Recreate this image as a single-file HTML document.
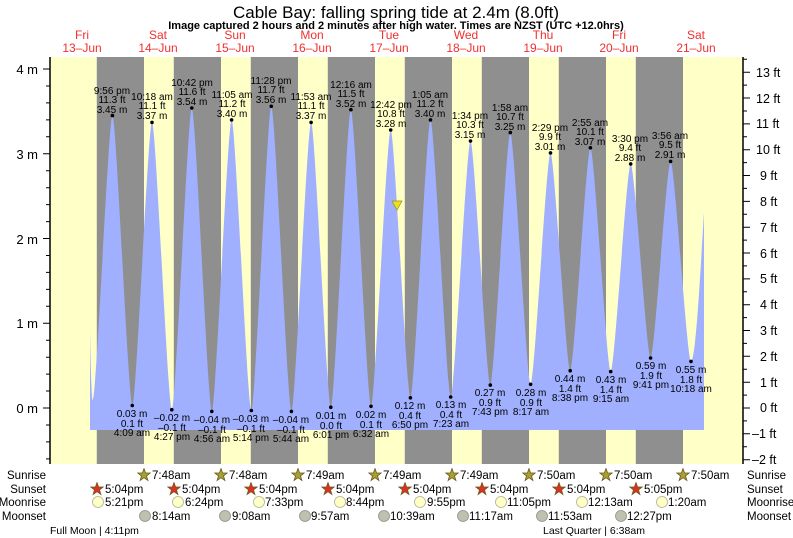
<!DOCTYPE html>
<html><head><meta charset="utf-8"><style>
body{margin:0;background:#fff}
svg{display:block;font-family:"Liberation Sans",sans-serif}
.hl text{font-size:10px;text-anchor:middle;fill:#000}
.row{font-size:11.5px;fill:#000}
</style></head><body>
<svg width="793" height="538" viewBox="0 0 793 538" xmlns="http://www.w3.org/2000/svg">
<defs>
<symbol id="st" viewBox="-7 -7 14 14"><polygon points="0,-6.5 1.6,-2 6.2,-2 2.5,0.9 3.9,5.5 0,2.7 -3.9,5.5 -2.5,0.9 -6.2,-2 -1.6,-2" stroke="#6a5a20" stroke-width="0.8"/></symbol>
</defs>
<text x="396" y="18" font-size="17" text-anchor="middle">Cable Bay: falling  spring tide at 2.4m (8.0ft)</text>
<text x="396" y="29" font-size="11" font-weight="bold" text-anchor="middle">Image captured 2 hours and 2 minutes after high water. Times are NZST (UTC +12.0hrs)</text>
<g font-size="12" fill="#f03030" text-anchor="middle">
<text x="82" y="39">Fri</text><text x="82" y="52">13–Jun</text>
<text x="158" y="39">Sat</text><text x="158" y="52">14–Jun</text>
<text x="235" y="39">Sun</text><text x="235" y="52">15–Jun</text>
<text x="312" y="39">Mon</text><text x="312" y="52">16–Jun</text>
<text x="389" y="39">Tue</text><text x="389" y="52">17–Jun</text>
<text x="466" y="39">Wed</text><text x="466" y="52">18–Jun</text>
<text x="543" y="39">Thu</text><text x="543" y="52">19–Jun</text>
<text x="619" y="39">Fri</text><text x="619" y="52">20–Jun</text>
<text x="696" y="39">Sat</text><text x="696" y="52">21–Jun</text>
</g>
<rect x="50" y="57" width="693" height="407" fill="#ffffc8"/>
<g fill="#8f8f8f">
<rect x="96.8" y="57" width="47.2" height="407"/><rect x="173.8" y="57" width="47.2" height="407"/>
<rect x="250.8" y="57" width="47.2" height="407"/><rect x="327.8" y="57" width="47.2" height="407"/>
<rect x="404.8" y="57" width="47.2" height="407"/><rect x="481.8" y="57" width="47.2" height="407"/>
<rect x="558.8" y="57" width="47.2" height="407"/><rect x="635.8" y="57" width="47.2" height="407"/>
</g>
<path fill="#a0b0ff" d="M90,430 L90,330 C91,385 92,400 92.6,400
C96.6,400 108.4,115.6 112.4,115.6 C116.4,115.6 128.3,405.5 132.3,405.5 C136.3,405.5 148,122.4 152,122.4
C156,122.4 167.8,409.7 171.8,409.7 C175.8,409.7 187.8,108 191.8,108 C195.8,108 207.8,411.4 211.8,411.4
C215.8,411.4 227.6,119.9 231.6,119.9 C235.6,119.9 247.3,410.5 251.3,410.5 C255.3,410.5 267.3,106.3 271.3,106.3
C275.3,106.3 287.4,411.4 291.4,411.4 C295.4,411.4 307.1,122.4 311.1,122.4 C315.1,122.4 326.8,407.2 330.8,407.2
C334.8,407.2 346.9,109.7 350.9,109.7 C354.9,109.7 367,406.3 371,406.3 C375,406.3 386.7,130 390.7,130
C394.7,130 406.4,397.8 410.4,397.8 C414.4,397.8 426.5,119.9 430.5,119.9 C434.5,119.9 446.7,397 450.7,397
C454.7,397 466.5,141 470.5,141 C474.5,141 486.3,385.1 490.3,385.1 C494.3,385.1 506.3,132.6 510.3,132.6
C514.3,132.6 526.6,384.3 530.6,384.3 C534.6,384.3 546.5,152.9 550.5,152.9 C554.5,152.9 566.2,370.7 570.2,370.7
C574.2,370.7 586.4,147.8 590.4,147.8 C594.4,147.8 606.7,371.6 610.7,371.6 C614.7,371.6 626.7,163.9 630.7,163.9
C634.7,163.9 646.6,358 650.6,358 C654.6,358 666.6,161.4 670.6,161.4 C674.6,161.4 687,361.4 691,361.4
C696,361.4 701,260 704,212 L704,430 Z"/>
<polygon points="392,201 402,201 397,210" fill="#e8e020" stroke="#a09010" stroke-width="0.7"/>
<g fill="#000">
<circle cx="112.4" cy="115.6" r="1.8"/><circle cx="152" cy="122.4" r="1.8"/><circle cx="191.8" cy="108" r="1.8"/><circle cx="231.6" cy="119.9" r="1.8"/><circle cx="271.3" cy="106.3" r="1.8"/><circle cx="311.1" cy="122.4" r="1.8"/><circle cx="350.9" cy="109.7" r="1.8"/><circle cx="390.7" cy="130" r="1.8"/><circle cx="430.5" cy="119.9" r="1.8"/><circle cx="470.5" cy="141" r="1.8"/><circle cx="510.3" cy="132.6" r="1.8"/><circle cx="550.5" cy="152.9" r="1.8"/><circle cx="590.4" cy="147.8" r="1.8"/><circle cx="630.7" cy="163.9" r="1.8"/><circle cx="670.6" cy="161.4" r="1.8"/>
<circle cx="132.3" cy="405.5" r="1.8"/><circle cx="171.8" cy="409.7" r="1.8"/><circle cx="211.8" cy="411.4" r="1.8"/><circle cx="251.3" cy="410.5" r="1.8"/><circle cx="291.4" cy="411.4" r="1.8"/><circle cx="330.8" cy="407.2" r="1.8"/><circle cx="371" cy="406.3" r="1.8"/><circle cx="410.4" cy="397.8" r="1.8"/><circle cx="450.7" cy="397" r="1.8"/><circle cx="490.3" cy="385.1" r="1.8"/><circle cx="530.6" cy="384.3" r="1.8"/><circle cx="570.2" cy="370.7" r="1.8"/><circle cx="610.7" cy="371.6" r="1.8"/><circle cx="650.6" cy="358" r="1.8"/><circle cx="691" cy="361.4" r="1.8"/>
</g>
<g class="hl">
<text x="112" y="94">9:56 pm</text><text x="112" y="103">11.3 ft</text><text x="112" y="113">3.45 m</text>
<text x="152" y="100">10:18 am</text><text x="152" y="109">11.1 ft</text><text x="152" y="119">3.37 m</text>
<text x="192" y="86">10:42 pm</text><text x="192" y="95">11.6 ft</text><text x="192" y="105">3.54 m</text>
<text x="232" y="98">11:05 am</text><text x="232" y="107">11.2 ft</text><text x="232" y="117">3.40 m</text>
<text x="271" y="84">11:28 pm</text><text x="271" y="93">11.7 ft</text><text x="271" y="103">3.56 m</text>
<text x="311" y="100">11:53 am</text><text x="311" y="109">11.1 ft</text><text x="311" y="119">3.37 m</text>
<text x="351" y="88">12:16 am</text><text x="351" y="97">11.5 ft</text><text x="351" y="107">3.52 m</text>
<text x="391" y="108">12:42 pm</text><text x="391" y="117">10.8 ft</text><text x="391" y="127">3.28 m</text>
<text x="430" y="98">1:05 am</text><text x="430" y="107">11.2 ft</text><text x="430" y="117">3.40 m</text>
<text x="470" y="119">1:34 pm</text><text x="470" y="128">10.3 ft</text><text x="470" y="138">3.15 m</text>
<text x="510" y="111">1:58 am</text><text x="510" y="120">10.7 ft</text><text x="510" y="130">3.25 m</text>
<text x="550" y="131">2:29 pm</text><text x="550" y="140">9.9 ft</text><text x="550" y="150">3.01 m</text>
<text x="590" y="126">2:55 am</text><text x="590" y="135">10.1 ft</text><text x="590" y="145">3.07 m</text>
<text x="630" y="142">3:30 pm</text><text x="630" y="151">9.4 ft</text><text x="630" y="161">2.88 m</text>
<text x="670" y="139">3:56 am</text><text x="670" y="148">9.5 ft</text><text x="670" y="158">2.91 m</text>
<text x="132" y="417">0.03 m</text><text x="132" y="427">0.1 ft</text><text x="132" y="436">4:09 am</text>
<text x="172" y="421">–0.02 m</text><text x="172" y="431">–0.1 ft</text><text x="172" y="440">4:27 pm</text>
<text x="212" y="423">–0.04 m</text><text x="212" y="433">–0.1 ft</text><text x="212" y="442">4:56 am</text>
<text x="251" y="422">–0.03 m</text><text x="251" y="432">–0.1 ft</text><text x="251" y="441">5:14 pm</text>
<text x="291" y="423">–0.04 m</text><text x="291" y="433">–0.1 ft</text><text x="291" y="442">5:44 am</text>
<text x="331" y="419">0.01 m</text><text x="331" y="429">0.0 ft</text><text x="331" y="438">6:01 pm</text>
<text x="371" y="418">0.02 m</text><text x="371" y="428">0.1 ft</text><text x="371" y="437">6:32 am</text>
<text x="410" y="409">0.12 m</text><text x="410" y="419">0.4 ft</text><text x="410" y="428">6:50 pm</text>
<text x="451" y="408">0.13 m</text><text x="451" y="418">0.4 ft</text><text x="451" y="427">7:23 am</text>
<text x="490" y="396">0.27 m</text><text x="490" y="406">0.9 ft</text><text x="490" y="415">7:43 pm</text>
<text x="531" y="396">0.28 m</text><text x="531" y="406">0.9 ft</text><text x="531" y="415">8:17 am</text>
<text x="570" y="382">0.44 m</text><text x="570" y="392">1.4 ft</text><text x="570" y="401">8:38 pm</text>
<text x="611" y="383">0.43 m</text><text x="611" y="393">1.4 ft</text><text x="611" y="402">9:15 am</text>
<text x="651" y="369">0.59 m</text><text x="651" y="379">1.9 ft</text><text x="651" y="388">9:41 pm</text>
<text x="691" y="373">0.55 m</text><text x="691" y="383">1.8 ft</text><text x="691" y="392">10:18 am</text>
</g>
<line x1="50" y1="57" x2="50" y2="464" stroke="#000" stroke-width="1.5"/>
<line x1="743" y1="57" x2="743" y2="464" stroke="#000" stroke-width="1.5"/>
<path stroke="#000" fill="none" d="M46,458.9H50M46,441.9H50M46,425H50M43,408H50M46,391H50M46,374.1H50M46,357.2H50M46,340.2H50M43,323.3H50M46,306.3H50M46,289.4H50M46,272.4H50M46,255.5H50M43,238.5H50M46,221.6H50M46,204.6H50M46,187.7H50M46,170.7H50M43,153.8H50M46,136.8H50M46,119.9H50M46,102.9H50M46,86H50M43,69H50
M743,459.7H750M743,446.7H747M743,433.8H750M743,420.9H747M743,408H750M743,395.1H747M743,382.2H750M743,369.3H747M743,356.3H750M743,343.4H747M743,330.5H750M743,317.6H747M743,304.7H750M743,291.8H747M743,278.9H750M743,265.9H747M743,253H750M743,240.1H747M743,227.2H750M743,214.3H747M743,201.4H750M743,188.4H747M743,175.5H750M743,162.6H747M743,149.7H750M743,136.8H747M743,123.9H750M743,111H747M743,98H750M743,85.1H747M743,72.2H750M743,59.3H747"/>
<g font-size="13" text-anchor="end">
<text x="38" y="74">4 m</text><text x="38" y="159">3 m</text><text x="38" y="244">2 m</text><text x="38" y="328">1 m</text><text x="38" y="413">0 m</text>
</g>
<g font-size="12.5">
<text x="756" y="77">13 ft</text><text x="756" y="103">12 ft</text><text x="756" y="128">11 ft</text><text x="756" y="154">10 ft</text><text x="760" y="180">9 ft</text><text x="760" y="206">8 ft</text><text x="760" y="232">7 ft</text><text x="760" y="258">6 ft</text><text x="760" y="283">5 ft</text><text x="760" y="309">4 ft</text><text x="760" y="335">3 ft</text><text x="760" y="361">2 ft</text><text x="760" y="387">1 ft</text><text x="760" y="412">0 ft</text><text x="752" y="438">–1 ft</text><text x="752" y="464">–2 ft</text>
</g>
<g class="row" font-size="12.5" text-anchor="end">
<text x="46" y="479">Sunrise</text><text x="46" y="493">Sunset</text><text x="46" y="506">Moonrise</text><text x="46" y="520">Moonset</text>
</g>
<g class="row" font-size="12.5">
<text x="747" y="479">Sunrise</text><text x="747" y="493">Sunset</text><text x="747" y="506">Moonrise</text><text x="747" y="520">Moonset</text>
</g>
<g fill="#a8a030">
<use href="#st" x="137" y="468" width="14" height="14"/><use href="#st" x="214" y="468" width="14" height="14"/><use href="#st" x="291" y="468" width="14" height="14"/><use href="#st" x="368" y="468" width="14" height="14"/><use href="#st" x="445" y="468" width="14" height="14"/><use href="#st" x="522" y="468" width="14" height="14"/><use href="#st" x="599" y="468" width="14" height="14"/><use href="#st" x="676" y="468" width="14" height="14"/>
</g>
<g fill="#e03020">
<use href="#st" x="90" y="482" width="14" height="14"/><use href="#st" x="167" y="482" width="14" height="14"/><use href="#st" x="244" y="482" width="14" height="14"/><use href="#st" x="321" y="482" width="14" height="14"/><use href="#st" x="398" y="482" width="14" height="14"/><use href="#st" x="475" y="482" width="14" height="14"/><use href="#st" x="552" y="482" width="14" height="14"/><use href="#st" x="629" y="482" width="14" height="14"/>
</g>
<g fill="#ffffc8" stroke="#b0b090" stroke-width="0.8">
<circle cx="98" cy="502" r="5.5"/><circle cx="178" cy="502" r="5.5"/><circle cx="259" cy="502" r="5.5"/><circle cx="340" cy="502" r="5.5"/><circle cx="420" cy="502" r="5.5"/><circle cx="501" cy="502" r="5.5"/><circle cx="582" cy="502" r="5.5"/><circle cx="662" cy="502" r="5.5"/>
</g>
<g fill="#c0c0b0" stroke="#909080" stroke-width="0.8">
<circle cx="145" cy="516" r="5.5"/><circle cx="225" cy="516" r="5.5"/><circle cx="305" cy="516" r="5.5"/><circle cx="384" cy="516" r="5.5"/><circle cx="463" cy="516" r="5.5"/><circle cx="542" cy="516" r="5.5"/><circle cx="621" cy="516" r="5.5"/>
</g>
<g class="row">
<text x="152" y="479">7:48am</text><text x="229" y="479">7:48am</text><text x="306" y="479">7:49am</text><text x="383" y="479">7:49am</text><text x="460" y="479">7:49am</text><text x="537" y="479">7:50am</text><text x="614" y="479">7:50am</text><text x="691" y="479">7:50am</text>
<text x="105" y="493">5:04pm</text><text x="182" y="493">5:04pm</text><text x="259" y="493">5:04pm</text><text x="336" y="493">5:04pm</text><text x="413" y="493">5:04pm</text><text x="490" y="493">5:04pm</text><text x="567" y="493">5:04pm</text><text x="644" y="493">5:05pm</text>
<text x="105" y="506">5:21pm</text><text x="185" y="506">6:24pm</text><text x="265" y="506">7:33pm</text><text x="346" y="506">8:44pm</text><text x="427" y="506">9:55pm</text><text x="507" y="506">11:05pm</text><text x="588" y="506">12:13am</text><text x="668" y="506">1:20am</text>
<text x="152" y="520">8:14am</text><text x="232" y="520">9:08am</text><text x="311" y="520">9:57am</text><text x="390" y="520">10:39am</text><text x="469" y="520">11:17am</text><text x="548" y="520">11:53am</text><text x="627" y="520">12:27pm</text>
<text x="50" y="534" font-size="10.5">Full Moon | 4:11pm</text>
<text x="543" y="534" font-size="10.5">Last Quarter | 6:38am</text>
</g>
</svg>
</body></html>
